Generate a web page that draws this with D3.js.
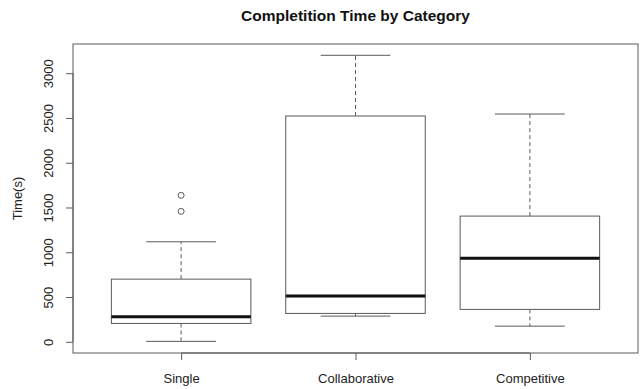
<!DOCTYPE html>
<html><head><meta charset="utf-8">
<script src="https://cdn.jsdelivr.net/npm/d3@7"></script>
<style>body{margin:0;background:#fff}svg{display:block}text{font-family:"Liberation Sans",Arial,sans-serif}</style>
</head><body><svg id="c" width="641" height="389"></svg>
<script>
const categories = ["Single", "Collaborative", "Competitive"];
const lowerWhisker = [5, 287, 175];
const q1 = [205, 317, 362];
const median = [279, 511, 932];
const q3 = [700, 2522, 1404];
const upperWhisker = [1117, 3200, 2544];
const outliers = [[1457, 1636], [], []];
const yTicks = [0, 500, 1000, 1500, 2000, 2500, 3000];

(function () {
const svg = d3.select("#c");
const pl = 73, pr = 638, pt = 44, pb = 353;
const x = d3.scaleLinear().domain([0.38, 3.62]).range([pl, pr]);
const y = d3.scaleLinear().domain([-125, 3326]).range([pb, pt]);
const boxW = x(1.4) - x(0.6);
const capW = boxW / 2;
const grey = "#5a5a5a";

svg.append("text").attr("x", (pl + pr) / 2).attr("y", 20.5).attr("text-anchor", "middle")
  .attr("font-size", 15.5).attr("font-weight", "bold").attr("fill", "#111").text("Completition Time by Category");

svg.append("rect").attr("x", pl).attr("y", pt).attr("width", pr - pl).attr("height", pb - pt)
  .attr("fill", "none").attr("stroke", grey).attr("stroke-width", 1);

const yAxis = svg.append("g").attr("transform", `translate(${pl},0)`)
  .call(d3.axisLeft(y).tickValues(yTicks).tickSize(7).tickSizeOuter(0).tickFormat(d3.format("d")));
yAxis.select(".domain").attr("stroke", grey).attr("d", `M0,${y(0)}V${y(3000)}`);
yAxis.selectAll(".tick line").attr("stroke", grey);
yAxis.selectAll(".tick text").attr("font-size", 13).attr("fill", "#222")
  .attr("x", 0).attr("y", 0).attr("dy", null).attr("text-anchor", "middle")
  .attr("transform", "translate(-20,0) rotate(-90)");

const xAxis = svg.append("g").attr("transform", `translate(0,${pb})`)
  .call(d3.axisBottom(x).tickValues([1, 2, 3]).tickSize(7).tickSizeOuter(0).tickFormat((d) => categories[d - 1]));
xAxis.select(".domain").attr("stroke", grey).attr("d", `M${x(1)},0H${x(3)}`);
xAxis.selectAll(".tick line").attr("stroke", grey);
xAxis.selectAll(".tick text").attr("font-size", 13).attr("fill", "#222").attr("y", 30).attr("dy", null);

svg.append("text").attr("transform", `translate(22,${(pt + pb) / 2}) rotate(-90)`)
  .attr("text-anchor", "middle").attr("font-size", 13).attr("fill", "#222").text("Time(s)");

categories.forEach((c, i) => {
  const cx = x(i + 1);
  const g = svg.append("g");
  g.append("line").attr("x1", cx).attr("x2", cx).attr("y1", y(q3[i])).attr("y2", y(upperWhisker[i]))
    .attr("stroke", grey).attr("stroke-dasharray", "4,3");
  g.append("line").attr("x1", cx).attr("x2", cx).attr("y1", y(q1[i])).attr("y2", y(lowerWhisker[i]))
    .attr("stroke", grey).attr("stroke-dasharray", "4,3");
  [upperWhisker[i], lowerWhisker[i]].forEach(v => {
    g.append("line").attr("x1", cx - capW / 2).attr("x2", cx + capW / 2).attr("y1", y(v)).attr("y2", y(v))
      .attr("stroke", grey);
  });
  g.append("rect").attr("x", cx - boxW / 2).attr("width", boxW).attr("y", y(q3[i]))
    .attr("height", y(q1[i]) - y(q3[i])).attr("fill", "#fff").attr("stroke", grey);
  g.append("line").attr("x1", cx - boxW / 2).attr("x2", cx + boxW / 2).attr("y1", y(median[i])).attr("y2", y(median[i]))
    .attr("stroke", "#111").attr("stroke-width", 3);
  g.selectAll("circle").data(outliers[i]).join("circle").attr("cx", cx).attr("cy", d => y(d)).attr("r", 3)
    .attr("fill", "none").attr("stroke", grey);
});
})();
</script></body></html>
